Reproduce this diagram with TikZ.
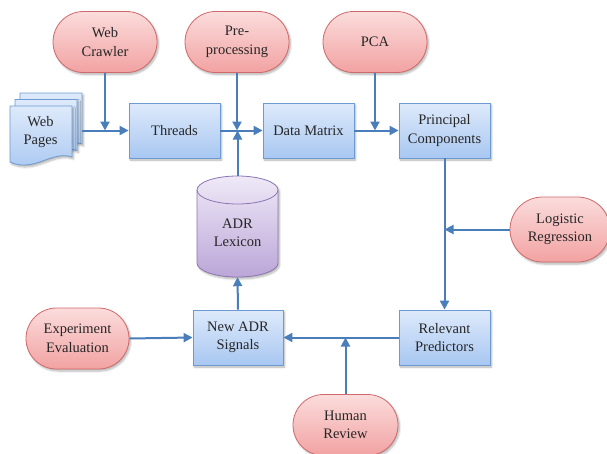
\documentclass[tikz,border=0pt]{standalone}
\usepackage{fontspec}
\setmainfont{Liberation Serif}
\newfontfamily\diagfont{Liberation Serif}
\usetikzlibrary{shapes.misc,arrows.meta,shadows.blur}

\definecolor{pillline}{HTML}{D06A6A}
\definecolor{pilltop}{HTML}{FBDCDC}
\definecolor{pillbot}{HTML}{F2A2A2}
\definecolor{boxline}{HTML}{6D9BD1}
\definecolor{boxtop}{HTML}{DEEAFB}
\definecolor{boxbot}{HTML}{A8C7F1}
\definecolor{cylline}{HTML}{8C76B2}
\definecolor{cyltop}{HTML}{EFE9F7}
\definecolor{cylbot}{HTML}{BBA6D8}
\definecolor{arrowblue}{HTML}{4A7EBB}

\tikzset{
  softshadow/.style={blur shadow={shadow xshift=1.5pt, shadow yshift=-2pt,
      shadow blur steps=6, shadow opacity=30, shadow blur radius=2pt}},
  txt/.style={font=\diagfont\fontsize{14.5}{18.5}\selectfont, align=center, text=black!85},
  pill/.style={txt, rounded rectangle, draw=pillline, line width=0.8pt,
      top color=pilltop, bottom color=pillbot, softshadow,
      minimum width=104pt, minimum height=61pt, inner sep=0pt},
  procbox/.style={txt, rectangle, draw=boxline, line width=0.8pt,
      top color=boxtop, bottom color=boxbot, softshadow,
      minimum width=91pt, minimum height=55pt, inner sep=0pt},
  arr/.style={draw=arrowblue, line width=2pt,
      -{Triangle[length=9pt,width=9pt]}},
  pagestyle/.style={draw=boxline, line width=0.8pt, top color=boxtop,
      bottom color=boxbot, softshadow},
}

\begin{document}
\begin{tikzpicture}[x=1pt, y=-1pt]
  \useasboundingbox (0,0) rectangle (607,453);

  % input and method pills
  \node[pill] (crawler) at (105,42)   {Web\\Crawler};
  \node[pill] (pre)     at (237,42)   {Pre-\\processing};
  \node[pill] (pca)     at (375,42)   {PCA};
  \node[pill, minimum width=100pt, minimum height=65pt] (logit) at (560,229.5) {Logistic\\Regression};
  \node[pill, minimum width=103pt] (exp)   at (77.5,338.5) {Experiment\\Evaluation};
  \node[pill, minimum width=105pt] (human) at (345.5,425)  {Human\\Review};

  % processing steps
  \node[procbox] (threads) at (174.5,130.5) {Threads};
  \node[procbox] (dm)      at (308.5,130.5) {Data Matrix};
  \node[procbox] (pc)      at (444.5,130.5) {Principal\\Components};
  \node[procbox] (rp)      at (444.5,337.5) {Relevant\\Predictors};
  \node[procbox, minimum width=90pt] (nadr) at (238,337.5) {New ADR\\Signals};

  % stack of web pages
  \foreach \dx/\dy in {10/-13, 5/-6.5, 0/0} {
    \path[pagestyle, shift={(\dx,\dy)}]
      (10,106) -- (72,106) -- (72,157)
      .. controls (52,150) and (34,173) .. (10,162) -- cycle;
  }
  \node[minimum width=72pt, minimum height=75pt, inner sep=0pt] (pages) at (46,130.5) {};
  \node[txt] (pagestxt) at (40.5,132) {Web\\Pages};

  % ADR lexicon cylinder
  \shade[top color=cyltop, bottom color=cylbot, softshadow]
    (197,190) -- (197,263) arc[start angle=180, end angle=360, x radius=40.5pt, y radius=14pt]
    -- (278,190) arc[start angle=0, end angle=180, x radius=40.5pt, y radius=14pt] -- cycle;
  \draw[cylline, line width=0.8pt]
    (197,190) -- (197,263) arc[start angle=180, end angle=360, x radius=40.5pt, y radius=14pt]
    -- (278,190) arc[start angle=0, end angle=180, x radius=40.5pt, y radius=14pt] -- cycle;
  \draw[cylline, line width=0.8pt]
    (197,190) arc[start angle=180, end angle=360, x radius=40.5pt, y radius=14pt];
  \node[minimum width=81pt, minimum height=101pt, inner sep=0pt] (lex) at (237.5,226.5) {};
  \node[txt] (lextxt) at (237.5,233) {ADR\\Lexicon};

  % connectors along the top row
  \draw[arr] (pages.east |- threads.west) -- (threads.west);
  \draw[arr] (crawler.south) -- (crawler.south |- threads.west);
  \draw[arr] (threads.east) -- (dm.west);
  \draw[arr] (pre.south) -- (pre.south |- threads.east);
  \draw[arr] (lex.north) -- (lex.north |- threads.east);
  \draw[arr] (dm.east) -- (pc.west);
  \draw[arr] (pca.south) -- (pca.south |- dm.east);

  % right column
  \draw[arr] (pc.south) -- (rp.north);
  \draw[arr] (logit.west) -- (logit.west -| pc.south);

  % bottom row
  \draw[arr] (rp.west) -- (nadr.east);
  \draw[arr] (human.north) -- (human.north |- rp.west);
  \draw[arr] (exp.east) -- (nadr.west);
  \draw[arr] (nadr.north) -- (lex.south);
\end{tikzpicture}
\end{document}
